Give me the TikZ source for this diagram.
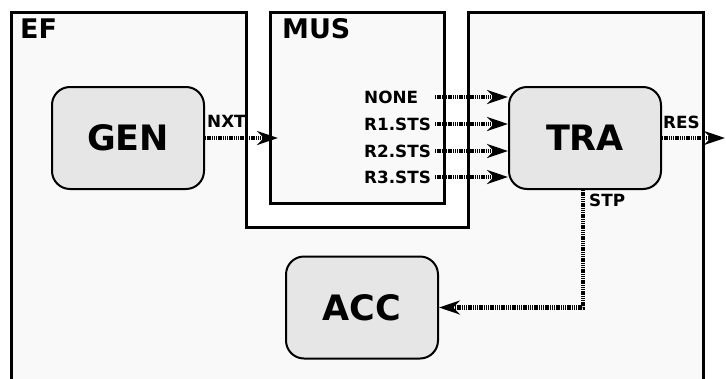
\documentclass[tikz,border=0pt]{standalone}
\usepackage{fontspec}
\setmainfont{DejaVu Sans}
\usepackage{tikz}
\usetikzlibrary{arrows.meta, calc, positioning}
\definecolor{flaeche}{HTML}{F9F9F9}
\definecolor{block}{HTML}{E6E6E6}

\begin{document}
\begin{tikzpicture}[
        x=1pt, y=-1pt,
        every node/.style={font=\bfseries},
        modul/.style={draw, line width=2pt, fill=block, rounded corners=18pt,
                      minimum width=152pt, minimum height=102pt,
                      font=\fontsize{35}{40}\selectfont\bfseries},
        rahmen/.style={draw, line width=3pt, fill=flaeche},
        titel/.style={anchor=base west, inner sep=0pt,
                      font=\fontsize{27}{30}\selectfont\bfseries},
        signal/.style={anchor=base west, inner sep=0pt,
                       font=\fontsize{16.8}{19}\selectfont\bfseries},
        sig/.style={line width=4.5pt, dash pattern=on 1.3pt off 0.9pt,
                    -{Stealth[length=21pt, width=14pt]}},
      ]
      \useasboundingbox (0,0) rectangle (726,378);
      \clip (0,0) rectangle (726,378);

      % Rahmen EF mit Aussparung, darin MUS
      \draw[rahmen] (11.5,12) -- (246,12) -- (246,227) -- (468,227)
        -- (468,12) -- (703,12) -- (703,395) -- (11.5,395) -- cycle;
      \draw[rahmen] (270,12) rectangle (444,203);
      \node[titel] (ef)  at (20,38.5) {EF};
      \node[titel] (mus) at (282,38.5) {MUS};

      % Module
      \node[modul] (gen) at (128,138) {GEN};
      \node[modul] (tra) at (585,138) {TRA};
      \node[modul] (acc) at (362,307.5) {ACC};

      % NXT
      \coordinate (nxt-e) at (278,138);
      \draw[sig] (gen.east) -- (nxt-e);
      \node[signal] (nxt) at (207,127.5) {NXT};

      % Eingaenge von TRA
      \foreach \name/\txt/\ypos in {none/NONE/97, r1/R1.STS/124,
                                    r2/R2.STS/151, r3/R3.STS/177} {
        \node[signal] (\name) at (364,\ypos+6.5) {\txt};
        \coordinate (\name-s) at (435,\ypos);
        \draw[sig] (\name-s) -- (tra.west |- \name-s);
      }

      % RES
      \coordinate (res-e) at (725,138);
      \draw[sig] (tra.east) -- (res-e);
      \node[signal] (res) at (663,128.5) {RES};

      % STP zu ACC
      \draw[sig] ([xshift=-2pt]tra.south) |- (acc.east);
      \node[signal] (stp) at (589,206) {STP};
    \end{tikzpicture}
\end{document}
